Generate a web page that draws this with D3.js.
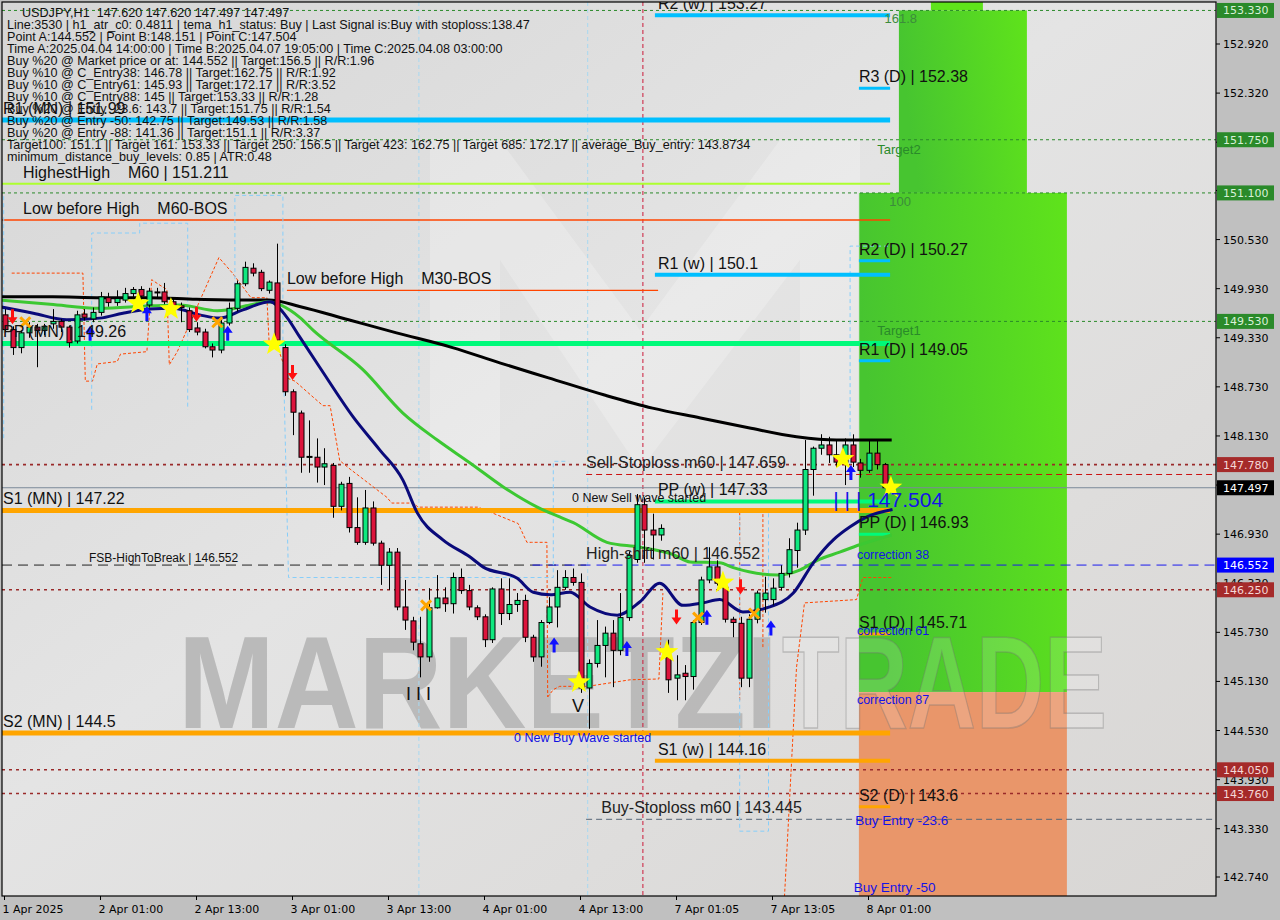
<!DOCTYPE html>
<html><head><meta charset="utf-8">
<script src="https://cdn.jsdelivr.net/npm/d3@7/dist/d3.min.js"></script>
<style>
html,body{margin:0;padding:0;background:#c0c0c0;}
svg{display:block;}
text{white-space:pre;}
</style></head><body>
<svg id="chart" width="1280" height="920"></svg>
<script>
// ================= DATA =================
const openP = [149.61,149.43,149.21,149.39,149.46,149.42,149.50,149.53,149.46,149.29,149.62,149.56,149.64,149.82,149.76,149.79,149.87,149.92,149.73,149.89,149.89,149.77,149.72,149.66,149.45,149.40,149.22,149.18,149.51,149.69,149.99,150.18,150.13,149.91,150.00,149.21,148.67,148.41,147.87,147.87,147.75,147.77,147.27,147.55,147.01,146.83,147.25,146.82,146.55,146.71,146.04,145.87,145.59,145.43,146.03,146.15,146.08,146.40,146.24,146.03,145.92,145.64,146.26,145.96,146.07,146.12,145.67,145.43,145.85,146.04,146.28,146.40,146.34,145.05,145.35,145.57,145.72,145.51,145.91,146.62,147.29,146.98,146.92,145.43,145.17,145.23,145.19,145.85,146.37,146.53,146.28,145.89,145.84,145.17,145.89,146.13,146.13,146.28,146.45,146.73,146.98,147.72,147.98,148.02,147.90,147.81,148.02,147.80,147.71,147.92,147.78];
const highP = [149.68,149.47,149.42,149.52,149.50,149.50,149.68,149.56,149.48,149.66,149.68,149.70,149.89,149.88,149.91,149.94,149.95,149.96,149.94,149.94,150.00,149.82,149.76,149.70,149.52,149.44,149.26,149.55,149.76,150.03,150.26,150.24,150.16,150.03,150.48,149.25,148.70,148.44,148.32,148.10,147.98,147.80,147.57,147.63,147.38,147.47,147.33,146.85,146.76,146.76,146.37,145.92,145.92,146.27,146.43,146.28,146.46,146.51,146.31,146.06,145.95,146.28,146.39,146.39,146.21,146.19,145.70,145.88,146.16,146.49,146.49,146.51,146.45,145.40,145.88,145.80,145.88,146.21,146.72,147.42,147.38,147.18,147.05,145.64,145.45,145.33,145.88,146.41,146.77,146.61,146.37,145.92,145.92,145.95,146.24,146.41,146.39,146.55,146.88,147.07,148.08,148.00,148.151,148.12,148.07,148.10,148.15,147.85,148.08,148.08,147.80];
const lowP = [149.40,149.12,149.14,149.33,148.97,149.36,149.44,149.40,149.21,149.26,149.54,149.52,149.60,149.71,149.72,149.76,149.80,149.78,149.70,149.82,149.74,149.66,149.52,149.40,149.36,149.20,149.09,149.14,149.48,149.65,149.96,150.08,149.90,149.87,149.27,148.62,148.14,147.68,147.68,147.56,147.53,147.13,147.22,146.95,146.80,146.80,146.79,146.31,146.25,146.00,145.76,145.51,145.18,145.37,146.02,145.98,145.96,146.20,146.00,145.88,145.55,145.60,145.82,145.88,145.98,145.61,145.37,145.31,145.83,145.79,146.25,146.30,144.99,144.552,145.30,145.18,145.06,145.45,145.87,146.58,146.58,146.62,146.85,144.99,144.90,144.90,145.03,145.82,146.33,146.30,145.85,145.67,145.06,145.06,145.84,145.97,146.06,146.24,146.40,146.52,146.92,147.40,147.90,147.80,147.75,147.53,147.75,147.62,147.68,147.72,147.497];
const closeP = [149.43,149.21,149.39,149.46,149.42,149.47,149.53,149.46,149.27,149.61,149.58,149.64,149.83,149.76,149.81,149.87,149.92,149.84,149.90,149.88,149.77,149.72,149.70,149.43,149.40,149.22,149.18,149.51,149.69,149.99,150.19,150.12,149.93,150.01,149.30,148.67,148.42,147.87,147.88,147.75,147.79,147.27,147.54,147.01,146.83,147.25,146.82,146.55,146.71,146.04,145.88,145.61,145.43,146.03,146.15,146.08,146.40,146.24,146.04,145.92,145.64,146.26,145.96,146.07,146.12,145.67,145.43,145.85,146.04,146.28,146.40,146.34,145.05,145.35,145.57,145.72,145.51,145.91,146.67,147.29,146.98,146.92,147.00,145.15,145.21,145.19,145.85,146.37,146.53,146.33,145.89,145.85,145.17,145.89,146.21,146.21,146.27,146.45,146.74,146.98,147.72,147.98,148.02,147.90,147.81,148.02,147.81,147.71,147.92,147.78,147.497];

const timeTickBars = [0,12,24,36,48,60,72,84,96,108];
const timeTickLabels = ["1 Apr 2025","2 Apr 01:00","2 Apr 13:00","3 Apr 01:00","3 Apr 13:00","4 Apr 01:00","4 Apr 13:00","7 Apr 01:05","7 Apr 13:05","8 Apr 01:00"];
const priceTicks = [152.92,152.32,151.72,151.13,150.53,149.93,149.33,148.73,148.13,147.53,146.93,146.33,145.73,145.13,144.53,143.93,143.33,142.74];

// moving averages (bar, price)
const maSlowBars = [-0.6,6,12,18,24,30,33,37,43,49,56,62,68,75,81,87,93,99,104,110.9];
const maSlowVals = [149.83,149.83,149.82,149.82,149.80,149.79,149.79,149.71,149.55,149.39,149.21,149.02,148.84,148.63,148.47,148.35,148.23,148.12,148.08,148.08];
const maMidBars = [-0.6,5.7,11.9,18.2,21.9,26.6,30.7,32.8,36.9,38.6,44.8,49.8,54.1,58.2,62.3,66.6,69.4,71.1,75.3,79.4,83.6,85.7,89.4,91.1,96.6,99.4,101.6,104.4,106.9,110.9];
const maMidVals = [149.79,149.74,149.69,149.72,149.73,149.66,149.73,149.77,149.58,149.42,148.94,148.41,148.08,147.80,147.51,147.26,147.14,147.07,146.83,146.77,146.68,146.59,146.58,146.52,146.43,146.49,146.61,146.71,146.80,146.92];
const maFastBars = [-0.6,3.6,7.8,11.9,14.8,18.2,21.1,24.4,26.9,29.8,33.2,35.3,36.9,39.4,43.6,46.9,49.8,51.6,54.8,58.2,59.8,64.1,66.1,68.2,70.7,73.2,76.6,79.4,81.9,84.8,87.3,89.4,92.3,95.3,98.6,101.1,103.6,105.7,107.8,111];
const maFastVals = [149.71,149.63,149.55,149.57,149.63,149.68,149.69,149.61,149.57,149.67,149.77,149.58,149.34,148.97,148.36,147.96,147.59,147.19,146.86,146.65,146.53,146.39,146.22,146.19,146.22,146.04,145.94,146.10,146.33,146.06,146.09,146.13,145.98,146.03,146.21,146.58,146.86,147.02,147.14,147.23];

// signals (bar, price)
const sellArrowBars = [1,24,36,84,92];
const sellArrowVals = [149.58,149.61,148.90,145.91,146.28];
const buyArrowBars = [10.7,17.8,27.9,68.7,77.8,87.8,95.8,105.8];
const buyArrowVals = [149.39,149.63,149.39,145.58,145.54,145.92,145.79,147.69];
const starBars = [16.7,20.8,33.7,71.8,82.8,89.8,104.8,110.8];
const starVals = [149.75,149.68,149.25,145.12,145.49,146.34,147.85,147.50];
const crossBars = [2.6,26.6,52.7,86.7,93.7];
const crossVals = [149.52,149.52,146.06,145.91,145.96];

// pivot / level lines
const pivotNames = ["R2 (w)","R3 (D)","R1 (MN)","R2 (D)","R1 (w)","PP (MN)","R1 (D)","PP (w)","S1 (MN)","PP (D)","S1 (D)","S2 (MN)","S1 (w)","S2 (D)"];
const pivotVals  = [153.27,152.38,151.99,150.27,150.1,149.26,149.05,147.33,147.22,146.93,145.71,144.5,144.16,143.6];
const pivotKind  = ["w","D","MN","D","w","MN","D","w","MN","D","D","MN","w","D"];

const targetLevels = [153.33,151.75,151.1,149.53];
const zoneLabels = ["161.8","Target2","100","Target1"];
const zoneLabelVals = [153.33,151.75,151.1,149.53];
const dottedLevels = [147.78,146.25,144.05,143.76];
const axisFlagVals = [153.33,151.75,151.1,149.53,147.78,147.497,146.552,146.25,144.05,143.76];
const axisFlagKind = ["g","g","g","g","r","k","b","r","r","r"];

const infoLines = [
 "USDJPY,H1  147.620 147.620 147.497 147.497",
 "Line:3530 | h1_atr_c0: 0.4811 | tema_h1_status: Buy | Last Signal is:Buy with stoploss:138.47",
 "Point A:144.552 | Point B:148.151 | Point C:147.504",
 "Time A:2025.04.04 14:00:00 | Time B:2025.04.07 19:05:00 | Time C:2025.04.08 03:00:00",
 "Buy %20 @ Market price or at: 144.552 || Target:156.5 || R/R:1.96",
 "Buy %10 @ C_Entry38: 146.78 || Target:162.75 || R/R:1.92",
 "Buy %10 @ C_Entry61: 145.93 || Target:172.17 || R/R:3.52",
 "Buy %10 @ C_Entry88: 145 || Target:153.33 || R/R:1.28",
 "Buy %20 @ Entry -23.6: 143.7 || Target:151.75 || R/R:1.54",
 "Buy %20 @ Entry -50: 142.75 || Target:149.53 || R/R:1.58",
 "Buy %20 @ Entry -88: 141.36 || Target:151.1 || R/R:3.37",
 "Target100: 151.1 || Target 161: 153.33 || Target 250: 156.5 || Target 423: 162.75 || Target 685: 172.17 || average_Buy_entry: 143.8734",
 "minimum_distance_buy_levels: 0.85 | ATR:0.48"
];

// structure levels
const highestHigh = 151.211, lowBeforeHighM60 = 150.77, lowBeforeHighM30 = 149.91;
const sellStop = 147.659, lastPrice = 147.497, pointC = 147.504, highShift = 146.552, buyStop = 143.445;
const zoneTop = 153.33, zoneMid = 151.1, entry88 = 145.0;

// envelope (dashed) paths, (bar, price)
const envUpperBars = [0.9,9.8,10.1,11,11.6,14.1,14.5,17.8,18.4,19.3,20.3,20.6,21.6,26.8,28.5,30.8,32.8,33.1,34.1,35.5,36.3,39.8,40.7,41.9,43,47.8,48.4,49.8,51.1,51.7,59.1,59.2,64.2,65.3,65.9,67.8,67.9];
const envUpperVals = [150.12,150.12,148.80,148.80,149.01,149.04,149.13,149.16,150.04,149.98,149.92,149.00,149.16,150.31,150.12,149.82,149.82,149.23,149.23,148.83,148.80,148.50,148.50,147.83,147.74,147.38,147.31,147.31,147.31,147.26,147.26,147.26,147.06,146.83,146.83,146.83,144.94];
const envLowerBars = [67.9,68.6,69.4,72.9,78.2,81.8,82.3];
const envLowerVals = [144.94,145.03,145.07,145.07,145.15,145.16,146.21];
const envBoxBars = [91.9,91.9,94.8,94.8];
const envBoxVals = [144.90,147.24,147.24,145.55];
const envRightBars = [97.5,99,100,106.5,107.3,111];
const envRightVals = [142.50,145.30,146.09,146.13,146.40,146.40];

// light-blue channel paths (bar, price)
const chanABars=[-0.1,-0.1], chanAVals=[151.06,148.08];
const chanBBars=[10.9,10.9,16.9,16.9,22.9,22.9], chanBVals=[148.45,150.61,150.61,150.73,150.73,148.45];
const chanCBars=[28.8,28.8,34.8,34.8,35.5,68.6,68.6,70.5], chanCVals=[149.79,151.07,151.07,149.30,146.40,146.40,147.82,147.82];
const chanDBars=[105.7,105.7,110.9], chanDVals=[147.70,150.45,150.45];
const chanEBars=[91.9,91.9,95.5,95.5], chanEVals=[147.24,143.30,143.30,147.24];
const chanVertBars=[51.8,72.9];

// ================= CHART =================
const svg = d3.select("#chart");
const PL=2, PR=1216, PT=2, PB=896;
const x = d3.scaleLinear().domain([0,108]).range([4.5,868.5]);
const y = d3.scaleLinear().domain([142.74,152.92]).range([877,44]);
const FONT = "'Liberation Sans', Arial, sans-serif";
const AXF = "'DejaVu Sans', Tahoma, sans-serif";

const defs = svg.append("defs");
defs.append("clipPath").attr("id","plot").append("rect").attr("x",PL).attr("y",PT).attr("width",PR-PL).attr("height",PB-PT);
const bgG = defs.append("linearGradient").attr("id","bg").attr("x1","0").attr("y1","0").attr("x2","1").attr("y2","1");
bgG.append("stop").attr("offset","0").attr("stop-color","#d6d6d6");
bgG.append("stop").attr("offset","0.45").attr("stop-color","#e4e4e4");
bgG.append("stop").attr("offset","1").attr("stop-color","#d8d6d4");
const gz = defs.append("linearGradient").attr("id","gz").attr("x1","0").attr("y1","0.2").attr("x2","1").attr("y2","0");
gz.append("stop").attr("offset","0").attr("stop-color","#47c530");
gz.append("stop").attr("offset","1").attr("stop-color","#5fe31b");

svg.append("rect").attr("width",1280).attr("height",920).attr("fill","#c0c0c0");
svg.append("rect").attr("x",PL).attr("y",PT).attr("width",PR-PL).attr("height",PB-PT).attr("fill","url(#bg)");

const g = svg.append("g").attr("clip-path","url(#plot)");

// watermark
const wm = g.append("g");
wm.append("path").attr("d","M430,140 L500,140 L640,330 L780,140 L860,140 L860,470 L800,470 L800,260 L640,470 L500,260 L500,470 L430,470 Z")
  .attr("fill","#ffffff").attr("opacity",0.22);
wm.append("text").attr("x",178).attr("y",728).attr("font-family",FONT).attr("font-weight","bold")
  .attr("font-size",132).attr("textLength",600).attr("lengthAdjust","spacingAndGlyphs")
  .attr("fill","#b6b6b6").attr("opacity",0.9).text("MARKETZI");

// zones
g.append("rect").attr("x",x(111.8)).attr("y",y(zoneTop)).attr("width",x(127.8)-x(111.8)).attr("height",y(zoneMid)-y(zoneTop)).attr("fill","url(#gz)");
g.append("rect").attr("x",x(115.8)).attr("y",0).attr("width",x(122.3)-x(115.8)).attr("height",y(zoneTop)).attr("fill","#5fe31b");
g.append("rect").attr("x",x(106.8)).attr("y",y(zoneMid)).attr("width",x(132.8)-x(106.8)).attr("height",y(entry88)-y(zoneMid)).attr("fill","url(#gz)");
g.append("rect").attr("x",x(106.8)).attr("y",y(entry88)).attr("width",x(132.8)-x(106.8)).attr("height",PB-y(entry88)).attr("fill","#e9966a");

// watermark part over the zones
wm.raise();
wm.append("text").attr("x",782).attr("y",728).attr("font-family",FONT).attr("font-weight","bold")
  .attr("font-size",132).attr("textLength",325).attr("lengthAdjust","spacingAndGlyphs")
  .attr("fill","#ffffff").attr("fill-opacity",0.15).attr("stroke","#6f6f6f").attr("stroke-opacity",0.35).attr("stroke-width",1.5).text("TRADE");

// vertical markers
g.append("line").attr("x1",x(79.8)).attr("x2",x(79.8)).attr("y1",PT).attr("y2",PB).attr("stroke","#cc1a3a").attr("stroke-width",1).attr("stroke-dasharray","4,3");
chanVertBars.forEach(b=>g.append("line").attr("x1",x(b)).attr("x2",x(b)).attr("y1",PT).attr("y2",PB).attr("stroke","#a8d8f0").attr("stroke-width",1).attr("stroke-dasharray","4,3"));

// horizontal dashed target lines
targetLevels.forEach(v=>g.append("line").attr("x1",PL).attr("x2",PR).attr("y1",y(v)).attr("y2",y(v)).attr("stroke","#2a8a2a").attr("stroke-dasharray","3,3"));
dottedLevels.forEach(v=>g.append("line").attr("x1",PL).attr("x2",PR).attr("y1",y(v)).attr("y2",y(v)).attr("stroke","#9a2a2a").attr("stroke-width",1.6).attr("stroke-dasharray","3,4"));
g.append("line").attr("x1",PL).attr("x2",PR).attr("y1",y(lastPrice)).attr("y2",y(lastPrice)).attr("stroke","#7c8a99").attr("stroke-width",1);
g.append("line").attr("x1",x(72.7)).attr("x2",PR).attr("y1",y(sellStop)).attr("y2",y(sellStop)).attr("stroke","#cc1010").attr("stroke-dasharray","6,4");
g.append("line").attr("x1",PL).attr("x2",x(72.7)).attr("y1",y(highShift)).attr("y2",y(highShift)).attr("stroke","#222").attr("stroke-dasharray","10,6");
g.append("line").attr("x1",x(66)).attr("x2",PR).attr("y1",y(highShift)).attr("y2",y(highShift)).attr("stroke","#1a1aee").attr("stroke-dasharray","10,6");
g.append("line").attr("x1",x(72.7)).attr("x2",PR).attr("y1",y(buyStop)).attr("y2",y(buyStop)).attr("stroke","#556677").attr("stroke-dasharray","6,4");

// structure lines
g.append("line").attr("x1",PL).attr("x2",x(110.7)).attr("y1",y(highestHigh)).attr("y2",y(highestHigh)).attr("stroke","#adff2f").attr("stroke-width",2);
g.append("line").attr("x1",PL).attr("x2",x(110.7)).attr("y1",y(lowBeforeHighM60)).attr("y2",y(lowBeforeHighM60)).attr("stroke","#ff4500").attr("stroke-width",1.5);
g.append("line").attr("x1",x(35.3)).attr("x2",x(81.7)).attr("y1",y(lowBeforeHighM30)).attr("y2",y(lowBeforeHighM30)).attr("stroke","#ff4500").attr("stroke-width",1.2);

// envelopes
const lineGen = d3.line().x(d=>x(d[0])).y(d=>y(d[1]));
function pathFrom(bars, vals, color, w, dash){
  g.append("path").attr("d", lineGen(bars.map((b,i)=>[b,vals[i]]))).attr("fill","none")
   .attr("stroke",color).attr("stroke-width",w).attr("stroke-dasharray",dash);
}
pathFrom(envUpperBars,envUpperVals,"#ff4500",1,"3,2");
pathFrom(envLowerBars,envLowerVals,"#ff4500",1,"3,2");
pathFrom(envBoxBars,envBoxVals,"#ff4500",1,"3,2");
pathFrom(envRightBars,envRightVals,"#ff4500",1,"3,2");
pathFrom(chanABars,chanAVals,"#87cefa",1,"4,3");
pathFrom(chanBBars,chanBVals,"#87cefa",1,"4,3");
pathFrom(chanCBars,chanCVals,"#87cefa",1,"4,3");
pathFrom(chanDBars,chanDVals,"#87cefa",1,"4,3");
pathFrom(chanEBars,chanEVals,"#87cefa",1,"4,3");

// pivot lines
const kindSpan = {MN:[-0.6,110.7], w:[81.3,110.7], D:[106.8,110.7]};
const kindWidth = {MN:5, w:4, D:3};
function pivotColor(name){ return name.startsWith("R")?"#00bfff":(name.startsWith("PP")?"#00fa7a":"#ffa500"); }
pivotNames.forEach((n,i)=>{
  const s = kindSpan[pivotKind[i]];
  g.append("line").attr("x1",x(s[0])).attr("x2",x(s[1])).attr("y1",y(pivotVals[i])).attr("y2",y(pivotVals[i]))
   .attr("stroke",pivotColor(n)).attr("stroke-width",kindWidth[pivotKind[i]]);
});

// moving averages
const curve = d3.line().x(d=>x(d[0])).y(d=>y(d[1])).curve(d3.curveMonotoneX);
[[maSlowBars,maSlowVals,"#000000"],[maMidBars,maMidVals,"#3cc832"],[maFastBars,maFastVals,"#0a0a7a"]].forEach(([b,v,c])=>{
  g.append("path").attr("d",curve(b.map((bb,i)=>[bb,v[i]]))).attr("fill","none").attr("stroke",c).attr("stroke-width",3);
});

// candles
const cg = g.append("g");
openP.forEach((o,i)=>{
  const c = closeP[i], h = highP[i], l = lowP[i];
  const cx = Math.round(x(i))+0.5;
  cg.append("line").attr("x1",cx).attr("x2",cx).attr("y1",y(h)).attr("y2",y(l)).attr("stroke","#000").attr("stroke-width",1);
  const top = y(Math.max(o,c)), bot = y(Math.min(o,c));
  cg.append("rect").attr("x",cx-2.5).attr("y",top).attr("width",5).attr("height",Math.max(1,bot-top))
    .attr("fill", c>=o ? "#10e87f" : "#dc143c").attr("stroke","#000").attr("stroke-width",1);
});

// signals
function star(cx,cy,R,r){ let p=[]; for(let k=0;k<10;k++){const a=-Math.PI/2+k*Math.PI/5; const rr=k%2?r:R; p.push([cx+rr*Math.cos(a),cy+rr*Math.sin(a)]);} return "M"+p.join("L")+"Z"; }
starBars.forEach((b,i)=>g.append("path").attr("d",star(x(b),y(starVals[i]),12,5)).attr("fill","#ffff00"));
sellArrowBars.forEach((b,i)=>{const cx=x(b), cy=y(sellArrowVals[i]);
  g.append("path").attr("d",`M${cx-1.5},${cy-8}L${cx+1.5},${cy-8}L${cx+1.5},${cy}L${cx+5},${cy}L${cx},${cy+7}L${cx-5},${cy}L${cx-1.5},${cy}Z`).attr("fill","#ff1010");});
buyArrowBars.forEach((b,i)=>{const cx=x(b), cy=y(buyArrowVals[i]);
  g.append("path").attr("d",`M${cx-1.5},${cy+8}L${cx+1.5},${cy+8}L${cx+1.5},${cy}L${cx+5},${cy}L${cx},${cy-7}L${cx-5},${cy}L${cx-1.5},${cy}Z`).attr("fill","#1010ff");});
crossBars.forEach((b,i)=>{const cx=x(b), cy=y(crossVals[i]);
  g.append("path").attr("d",`M${cx-5},${cy-5}L${cx+5},${cy+5}M${cx+5},${cy-5}L${cx-5},${cy+5}`).attr("stroke","#ffa500").attr("stroke-width",3);});

// ---- texts ----
const tg = g.append("g").attr("font-family",FONT);
function lab(tx,ty,str,size,color){ return tg.append("text").attr("x",tx).attr("y",ty).attr("font-size",size).attr("fill",color||"#111").text(str); }
const kindLabelX = {MN:3, w:x(81.3)+3, D:x(106.8)};
pivotNames.forEach((n,i)=>{
  lab(kindLabelX[pivotKind[i]], y(pivotVals[i])-6, `${n} | ${pivotVals[i]}`, 16, "#111");
});
lab(23, y(highestHigh)-6, "HighestHigh    M60 | 151.211", 16);
lab(23, y(lowBeforeHighM60)-6, "Low before High    M60-BOS", 16);
lab(x(35.3), y(lowBeforeHighM30)-6, "Low before High    M30-BOS", 16);
lab(x(72.7), y(sellStop)-6, "Sell-Stoploss m60 | 147.659", 16, "#222");
lab(x(72.7), y(highShift)-6, "High-shift m60 | 146.552", 16, "#222");
lab(x(74.6), y(buyStop)-6, "Buy-Stoploss m60 | 143.445", 16, "#222");
lab(89, y(highShift)-3, "FSB-HighToBreak | 146.552", 12, "#111");
lab(572, y(147.33)+1, "0 New Sell wave started", 12.5, "#111");
lab(514, y(144.5)+9, "0 New Buy Wave started", 12.5, "#1010e0");
lab(x(103.6), y(pointC)+20, "| | | 147.504", 21, "#1414e6");
lab(x(106.8)-2, y(146.93)+25, "correction 38", 12.5, "#1414e6");
lab(x(106.8)-2, y(145.71)+1, "correction 61", 12.5, "#1414e6");
lab(x(106.8)-2, y(145.0)+12, "correction 87", 12.5, "#1414e6");
lab(x(106.6)-2, y(143.6)+18, "Buy Entry -23.6", 13.5, "#1414e6");
lab(x(106.4)-2, y(142.75)+16, "Buy Entry -50", 13.5, "#1414e6");
lab(406, y(145.0)+8, "I I I", 18, "#111");
lab(572, y(144.85)+8, "V", 18, "#111");
lab(x(110.0), y(zoneLabelVals[0])+13, zoneLabels[0], 13, "#3c8c3c");
lab(x(109.1), y(zoneLabelVals[1])+14, zoneLabels[1], 13, "#2a8a2a");
lab(x(110.6), y(zoneLabelVals[2])+13, zoneLabels[2], 13, "#3c8c3c");
lab(x(109.1), y(zoneLabelVals[3])+14, zoneLabels[3], 13, "#2a8a2a");
infoLines.forEach((s,i)=>lab(i===0?22:7, 17+12*i, s, 12.6, "#111"));

// ---- frame & axes ----
svg.append("rect").attr("x",PL).attr("y",PT).attr("width",PR-PL).attr("height",PB-PT).attr("fill","none").attr("stroke","#000").attr("stroke-width",1.2);
const ax = svg.append("g").attr("font-family",AXF).attr("font-size",11);
priceTicks.forEach(v=>{
  ax.append("line").attr("x1",PR).attr("x2",PR+4).attr("y1",y(v)).attr("y2",y(v)).attr("stroke","#000");
  ax.append("text").attr("x",1223).attr("y",y(v)+4).attr("fill","#000").text(v.toFixed(3));
});
const flagCol = {g:"#2a8a2a",r:"#a52a2a",k:"#000000",b:"#0000ff"};
const flagTxt = {g:"#d8f0d8",r:"#f4d8d8",k:"#ffffff",b:"#ffffff"};
axisFlagVals.forEach((v,i)=>{
  ax.append("rect").attr("x",PR+1).attr("y",y(v)-7.5).attr("width",57).attr("height",15).attr("fill",flagCol[axisFlagKind[i]]);
  ax.append("text").attr("x",1223).attr("y",y(v)+4).attr("fill",flagTxt[axisFlagKind[i]]).text(v.toFixed(3));
});
timeTickBars.forEach((b,i)=>{
  ax.append("line").attr("x1",x(b)).attr("x2",x(b)).attr("y1",PB).attr("y2",PB+4).attr("stroke","#000");
  ax.append("text").attr("x",x(b)-2).attr("y",913).attr("fill","#000").text(timeTickLabels[i]);
});
</script>
</body></html>
